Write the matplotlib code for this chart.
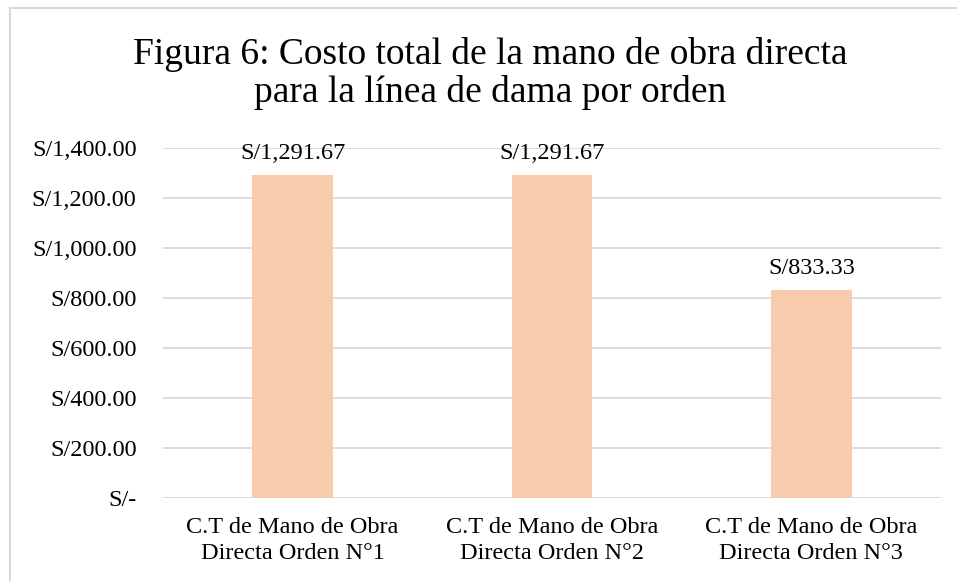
import matplotlib.pyplot as plt
from matplotlib.ticker import FuncFormatter
from matplotlib.lines import Line2D

# Data
categories = ['C.T de Mano de Obra\nDirecta Orden N°1',
              'C.T de Mano de Obra\nDirecta Orden N°2',
              'C.T de Mano de Obra\nDirecta Orden N°3']
costs = [1291.67, 1291.67, 833.33]
y_ticks = [0, 200, 400, 600, 800, 1000, 1200, 1400]
title_lines = ['Figura 6: Costo total de la mano de obra directa',
               'para la línea de dama por orden']

bar_color = '#F8CBAD'
grid_color = '#D9D9D9'

plt.rcParams['font.family'] = ['Liberation Serif', 'DejaVu Serif']

fig = plt.figure(figsize=(9.57, 5.81), dpi=100)
ax = fig.add_axes([0.1703, 0.1429, 0.8130, 0.6024])

positions = range(len(categories))
ax.bar(positions, costs, width=0.312, color=bar_color, zorder=2)

def soles(v, pos=None):
    if v == 0:
        return 'S/-'
    return 'S/{:,.2f}'.format(v)

for x, v in zip(positions, costs):
    ax.annotate(soles(v), (x, v), xytext=(0, 8), textcoords='offset points',
                ha='center', va='bottom', fontsize=17.5)

ax.set_xlim(-0.5, 2.5)
ax.set_ylim(0, 1400)
ax.set_yticks(y_ticks)
ax.yaxis.set_major_formatter(FuncFormatter(soles))
ax.set_xticks(list(positions))
ax.set_xticklabels(categories, fontsize=17.5, linespacing=1.3)
ax.tick_params(axis='y', length=0, pad=19, labelsize=17.5)
ax.tick_params(axis='x', length=0, pad=14)
ax.grid(axis='y', color=grid_color, linewidth=1.3, zorder=0)
for s in ax.spines.values():
    s.set_visible(False)

# two-line title, placed by baseline
for line, base in zip(title_lines, [64, 102]):
    fig.text(490 / 957, 1 - base / 581, line, fontsize=27,
             ha='center', va='baseline')

# chart border (left and top visible)
fig.add_artist(Line2D([10 / 957, 10 / 957], [0, 1 - 8 / 581], transform=fig.transFigure,
                      color=grid_color, linewidth=1.5))
fig.add_artist(Line2D([10 / 957, 1], [1 - 8 / 581, 1 - 8 / 581], transform=fig.transFigure,
                      color=grid_color, linewidth=1.5))

fig.savefig('out.png', dpi=100)
